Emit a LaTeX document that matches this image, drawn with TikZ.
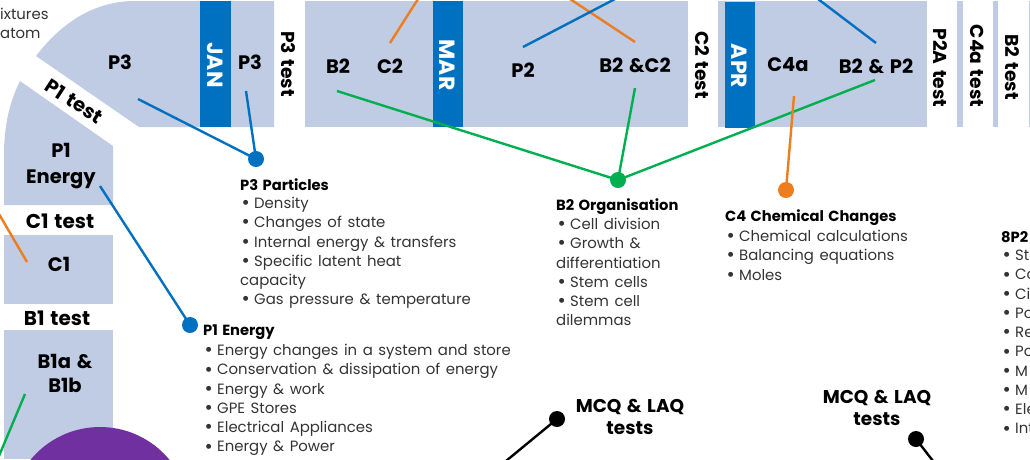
\documentclass[tikz,border=0pt]{standalone}
\usepackage{fontspec}
\setmainfont{Poppins}[WordSpace=1.4]
\definecolor{band}{HTML}{BFCCE3}
\definecolor{mon}{HTML}{0070C0}
\definecolor{grn}{HTML}{00B050}
\definecolor{org}{HTML}{ED7D1F}
\definecolor{pur}{HTML}{7030A0}
\definecolor{txt}{HTML}{333333}
\newcommand{\bl}{\hspace*{3pt}\raisebox{-1.2pt}[0pt][0pt]{\makebox[5pt][c]{\fontsize{20}{10}\selectfont•}}\hspace{6pt}}
\tikzset{
 x=1pt,y=-1pt,
 bandshape/.style={fill=band,draw=none},
 monthbar/.style={fill=mon,draw=none,anchor=north west,inner sep=0pt},
 monthtext/.style={text=white,font=\fontsize{22}{22}\selectfont\bfseries,rotate=-90,inner sep=0pt},
 topic/.style={font=\fontsize{19.5}{26}\selectfont\bfseries,text=black,inner sep=0pt,align=center},
 testv/.style={font=\fontsize{18.7}{20}\selectfont\bfseries,text=black,rotate=-90,inner sep=0pt},
 testh/.style={font=\fontsize{20}{20}\selectfont\bfseries,text=black,inner sep=0pt},
 listbox/.style={font=\fontsize{14.9}{19.25}\selectfont,text=txt,inner sep=0pt,anchor=north west,align=left},
 hd/.style={font=\fontsize{14.7}{19.25}\selectfont\bfseries,text=black,inner sep=0pt,anchor=west},
 dotb/.style={circle,fill=mon,minimum size=16pt,inner sep=0pt},
 dotg/.style={circle,fill=grn,minimum size=16pt,inner sep=0pt},
 doto/.style={circle,fill=org,minimum size=16pt,inner sep=0pt},
 dotk/.style={circle,fill=black,minimum size=16pt,inner sep=0pt},
 lb/.style={draw=mon,line width=2.4pt},
 lg/.style={draw=grn,line width=2.4pt},
 lo/.style={draw=org,line width=2.4pt},
 lk/.style={draw=black,line width=2.4pt},
}
\begin{document}
\begin{tikzpicture}
\useasboundingbox (0,0) rectangle (1030,459);
\clip (0,0) rectangle (1030,459);
% bands
\path[bandshape] (36,56) .. controls (62,22) and (95,1) .. (135,1) -- (274,1) -- (274,127) -- (139,127) -- cycle;
\path[bandshape] (20,81) .. controls (8,105) and (4,130) .. (4,155) -- (4,205) -- (113,205) -- (113,146) -- cycle;
\path[bandshape] (4,235) rectangle (113,304);
\path[bandshape] (4,330) rectangle (113,459);
\path[bandshape] (305,1) rectangle (688,127);
\path[bandshape] (718,1) rectangle (927,127);
\path[bandshape] (957,1) rectangle (963,127);
\path[bandshape] (993,1) rectangle (998,127);
\path[bandshape] (1029,1) rectangle (1030,127);
\path[fill=pur] (100,517) circle (90);
% month bars
\node[monthbar,minimum width=31pt,minimum height=126pt] (janbar) at (200,1) {};
\node[monthbar,minimum width=30pt,minimum height=126pt] (marbar) at (433,1) {};
\node[monthbar,minimum width=30pt,minimum height=126pt] (aprbar) at (725,2) {};
\node[monthtext] (jan) at (215,65) {JAN};
\node[monthtext] (mar) at (447,65) {MAR};
\node[monthtext] (apr) at (739,66) {APR};
% topics
\node[topic] (tp3a) at (120,62) {P3};
\node[topic] (tp3b) at (250,62) {P3};
\node[topic] (tb2) at (338,66) {B2};
\node[topic] (tc2) at (390,66) {C2};
\node[topic] (tp2) at (523,70) {P2};
\node[topic] (tb2c2) at (635,65) {B2 \&C2};
\node[topic] (tc4a) at (788,65) {C4a};
\node[topic] (tb2p2) at (876,66) {B2 \& P2};
\node[topic] (tp1) at (61,166) {P1\\Energy};
\node[topic] (tc1) at (59,264) {C1};
\node[topic,font=\fontsize{19.5}{24}\selectfont\bfseries] (tb1) at (65,373) {B1a \&\\B1b};
% tests
\node[testv] (t1) at (288,64) {P3 test};
\node[testv] (t2) at (702,65) {C2 test};
\node[testv] (t3) at (940,68) {P2A test};
\node[testv] (t4) at (977,66) {C4a test};
\node[testv] (t5) at (1012,67) {B2 test};
\node[testh,rotate=-33,font=\fontsize{19.5}{20}\selectfont\bfseries] (t6) at (74,101) {P1 test};
\node[testh] (t7) at (60,221) {C1 test};
\node[testh] (t8) at (57,318) {B1 test};
% fragments
\node[listbox] (frag1) at (0,8) {ixtures\\atom};
% lists
\node[hd] (h3) at (240,185) {P3 Particles};
\node[listbox] (l3) at (240,197) {\bl Density\\\bl Changes of state\\\bl Internal energy \& transfers\\\bl Specific latent heat\\capacity\\\bl Gas pressure \& temperature};
\node[hd] (h1) at (203,332) {P1 Energy};
\node[listbox] (l1) at (203,344) {\bl Energy changes in a system and store\\\bl Conservation \& dissipation of energy\\\bl Energy \& work\\\bl GPE Stores\\\bl Electrical Appliances\\\bl Energy \& Power};
\node[hd] (h2) at (556,207) {B2 Organisation};
\node[listbox] (l2) at (556,218) {\bl Cell division\\\bl Growth \&\\differentiation\\\bl Stem cells\\\bl Stem cell\\dilemmas};
\node[hd] (h4) at (725,218) {C4 Chemical Changes};
\node[listbox] (l4) at (725,230) {\bl Chemical calculations\\\bl Balancing equations\\\bl Moles};
\node[hd] (h8) at (1001,237) {8P2};
\node[listbox] (l8) at (1001,250) {\bl St\\\bl Co\\\bl Ci\\\bl Po\\\bl Re\\\bl Po\\\bl M\\\bl M\\\bl Ele\\\bl Int};
\node[topic,font=\fontsize{18.5}{22}\selectfont\bfseries] (m1) at (630,417) {MCQ \& LAQ\\tests};
\node[topic,font=\fontsize{18.5}{22}\selectfont\bfseries] (m2) at (877,408) {MCQ \& LAQ\\tests};
% dots
\node[dotb] (d3) at (256,159) {};
\node[dotb] (d1) at (190,325) {};
\node[dotg] (dg) at (618,180) {};
\node[doto] (do) at (786,190) {};
\node[dotk] (dk1) at (557,419) {};
\node[dotk] (dk2) at (916,439) {};
% free ends
\coordinate (a1) at (138,99); \coordinate (a2) at (246,91);
\coordinate (a3) at (100,186);
\coordinate (g1) at (337,91); \coordinate (g2) at (635,88); \coordinate (g3) at (875,80);
\coordinate (o1) at (794,96);
\coordinate (o2a) at (390,43); \coordinate (o2b) at (418,-1);
\coordinate (o3a) at (635,42); \coordinate (o3b) at (570,-1);
\coordinate (b2a) at (523,47); \coordinate (b2b) at (615,-1);
\coordinate (b3a) at (876,43); \coordinate (b3b) at (818,-1);
\coordinate (o4a) at (27,262); \coordinate (o4b) at (-1,214);
\coordinate (g4a) at (25,394); \coordinate (g4b) at (-1,456);
\coordinate (k1) at (506,461); \coordinate (k2) at (933,461);
% connectors
\draw[lb] (a1) -- (d3.center); \draw[lb] (a2) -- (d3.center);
\draw[lb] (a3) -- (d1.center);
\draw[lg] (g1) -- (dg.center); \draw[lg] (g2) -- (dg.center); \draw[lg] (g3) -- (dg.center);
\draw[lo] (o1) -- (do.center);
\draw[lo] (o2a) -- (o2b);
\draw[lo] (o3a) -- (o3b);
\draw[lb] (b2a) -- (b2b);
\draw[lb] (b3a) -- (b3b);
\draw[lo] (o4a) -- (o4b);
\draw[lg] (g4a) -- (g4b);
\draw[lk] (dk1.center) -- (k1);
\draw[lk] (dk2.center) -- (k2);
\end{tikzpicture}
\end{document}
